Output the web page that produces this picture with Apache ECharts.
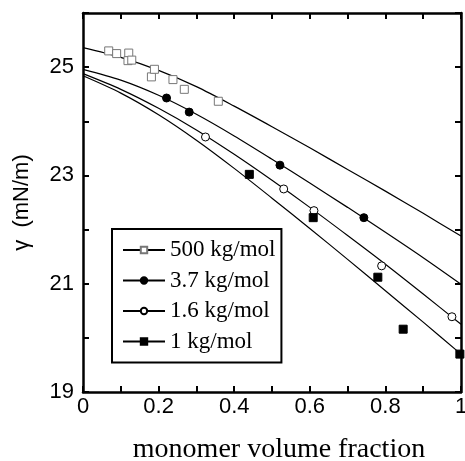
<!DOCTYPE html>
<html>
<head>
<meta charset="utf-8">
<script src="https://cdn.jsdelivr.net/npm/echarts@6/dist/echarts.min.js"></script>
<style>
html,body{margin:0;padding:0;background:#fff;}
#chart{width:465px;height:461px;}
</style>
</head>
<body>
<div id="chart"></div>
<script>
// ---- data ----
const seriesNames = ['500 kg/mol', '3.7 kg/mol', '1.6 kg/mol', '1 kg/mol'];
const xTickLabels = ['0', '0.2', '0.4', '0.6', '0.8', '1'];
const yTickLabels = ['19', '21', '23', '25'];

// fitted curves (x, y)
const fitX   = [0, 0.1, 0.2, 0.3, 0.4, 0.5, 0.6, 0.7, 0.8, 0.9, 1.0];
const fit500 = [25.36, 25.18, 24.94, 24.64, 24.28, 23.90, 23.51, 23.11, 22.71, 22.30, 21.88];
const fit37  = [24.96, 24.76, 24.48, 24.13, 23.73, 23.30, 22.86, 22.41, 21.95, 21.48, 20.99];
const fit16  = [24.88, 24.59, 24.24, 23.84, 23.39, 22.91, 22.41, 21.89, 21.36, 20.81, 20.25];
const fit1   = [24.84, 24.52, 24.12, 23.65, 23.13, 22.58, 22.02, 21.45, 20.87, 20.29, 19.70];

// measured points
const pts500X = [0.068, 0.089, 0.121, 0.119, 0.129, 0.181, 0.189, 0.238, 0.268, 0.358];
const pts500Y = [25.30, 25.25, 25.26, 25.12, 25.13, 24.82, 24.96, 24.77, 24.59, 24.37];
const pts37X  = [0.221, 0.281, 0.521, 0.743];
const pts37Y  = [24.43, 24.17, 23.19, 22.22];
const pts16X  = [0.324, 0.531, 0.611, 0.790, 0.976];
const pts16Y  = [23.71, 22.75, 22.35, 21.33, 20.39];
const pts1X   = [0.440, 0.609, 0.780, 0.847, 0.997];
const pts1Y   = [23.02, 22.22, 21.12, 20.16, 19.70];

// ---- build ----
const zip = (xs, ys) => xs.map((x, i) => [x, ys[i]]);
const fits = [fit500, fit37, fit16, fit1];
const ptsX = [pts500X, pts37X, pts16X, pts1X];
const ptsY = [pts500Y, pts37Y, pts16Y, pts1Y];

const markerStyle = [
  { symbol: 'rect', size: 8, color: '#fff', border: '#777' },
  { symbol: 'circle', size: 8, color: '#000', border: '#000' },
  { symbol: 'circle', size: 8, color: '#fff', border: '#000' },
  { symbol: 'rect', size: 8, color: '#000', border: '#000' }
];

const series = [];
seriesNames.forEach((name, i) => {
  const m = markerStyle[i];
  series.push({
    name: name,
    type: 'line',
    data: zip(fitX, fits[i]),
    smooth: 0.3,
    showSymbol: false,
    symbol: m.symbol,
    symbolSize: 6,
    itemStyle: { color: m.color, borderColor: m.border, borderWidth: 1 },
    lineStyle: { color: '#000', width: 1.2 },
    z: 2,
    silent: true
  });
});
seriesNames.forEach((name, i) => {
  const m = markerStyle[i];
  series.push({
    name: name,
    type: 'scatter',
    data: zip(ptsX[i], ptsY[i]),
    symbol: m.symbol,
    symbolSize: m.size,
    itemStyle: { color: m.color, borderColor: m.border, borderWidth: 1, opacity: 1 },
    z: 3,
    silent: true
  });
});

const axisLineStyle = { color: '#000', width: 2.5 };
const tickStyle = { show: true, inside: true, length: 6, lineStyle: { color: '#000', width: 2 } };
const labelFont = { fontFamily: 'Liberation Sans', fontSize: 22, color: '#000' };

const xFmt = v => {
  const s = String(+(+v).toFixed(1));
  return xTickLabels.indexOf(s) >= 0 ? s : '';
};
const yFmt = v => {
  const s = String(Math.round(v));
  return yTickLabels.indexOf(s) >= 0 ? s : '';
};

const option = {
  animation: false,
  backgroundColor: '#fff',
  grid: { left: 83, right: 4, top: 13, bottom: 69, containLabel: false, outerBoundsMode: 'none' },
  legend: {
    data: seriesNames,
    orient: 'vertical',
    left: 112,
    top: 229,
    itemWidth: 42,
    itemHeight: 8,
    itemGap: 6.5,
    padding: [9, 6, 9, 10],
    borderColor: '#000',
    borderWidth: 2,
    backgroundColor: '#fff',
    selectedMode: false,
    textStyle: { fontFamily: 'Liberation Serif', fontSize: 23, color: '#000', lineHeight: 24 }
  },
  xAxis: [
    {
      type: 'value', min: 0, max: 1, interval: 0.1, position: 'bottom',
      name: 'monomer volume fraction', nameLocation: 'middle', nameGap: 44,
      nameTextStyle: { fontFamily: 'Liberation Serif', fontSize: 28, color: '#000', padding: [0, 0, 0, 14] },
      axisLine: { show: true, onZero: false, lineStyle: axisLineStyle },
      axisTick: tickStyle,
      axisLabel: Object.assign({ margin: 4, formatter: xFmt, hideOverlap: false }, labelFont),
      splitLine: { show: false }
    },
    {
      type: 'value', min: 0, max: 1, interval: 0.1, position: 'top',
      axisLine: { show: true, onZero: false, lineStyle: axisLineStyle },
      axisTick: tickStyle,
      axisLabel: { show: false },
      splitLine: { show: false }
    }
  ],
  yAxis: [
    {
      type: 'value', min: 19, max: 26, interval: 1, position: 'left',
      name: 'γ  (mN/m)', nameLocation: 'middle', nameGap: 50,
      nameTextStyle: { fontFamily: 'Liberation Sans', fontSize: 22, color: '#000' },
      axisLine: { show: true, onZero: false, lineStyle: axisLineStyle },
      axisTick: tickStyle,
      axisLabel: Object.assign({ margin: 9, formatter: yFmt }, labelFont),
      splitLine: { show: false }
    },
    {
      type: 'value', min: 19, max: 26, interval: 1, position: 'right',
      axisLine: { show: true, onZero: false, lineStyle: axisLineStyle },
      axisTick: tickStyle,
      axisLabel: { show: false },
      splitLine: { show: false }
    }
  ],
  series: series
};

const chart = echarts.init(document.getElementById('chart'), null, { renderer: 'canvas' });
chart.setOption(option);
</script>
</body>
</html>
